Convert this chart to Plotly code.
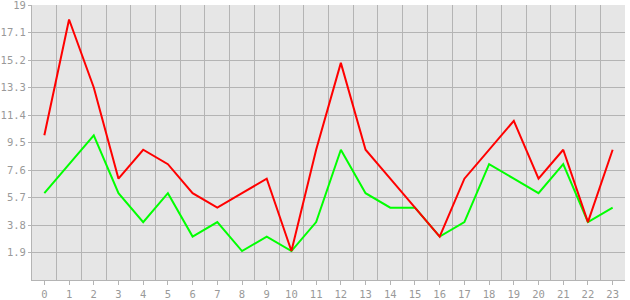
import plotly.graph_objects as go

categories = list(range(24))
red_values = [10, 18, 13.3, 7, 9, 8, 6, 5, 6, 7, 2, 9, 15, 9, 7, 5, 3, 7, 9, 11, 7, 9, 4, 9]
green_values = [6, 8, 10, 6, 4, 6, 3, 4, 2, 3, 2, 4, 9, 6, 5, 5, 3, 4, 8, 7, 6, 8, 4, 5]
y_ticks = [1.9, 3.8, 5.7, 7.6, 9.5, 11.4, 13.3, 15.2, 17.1, 19]
y_tick_labels = ["1.9", "3.8", "5.7", "7.6", "9.5", "11.4", "13.3", "15.2", "17.1", "19"]

grid = "#b4b4b4"
font_col = "#999999"

fig = go.Figure()
fig.add_trace(go.Scatter(x=categories, y=green_values, mode="lines",
                         line=dict(color="#00ff00", width=2), showlegend=False))
fig.add_trace(go.Scatter(x=categories, y=red_values, mode="lines",
                         line=dict(color="#ff0000", width=2), showlegend=False))

fig.update_layout(
    width=630, height=300,
    margin=dict(l=32, r=5, t=5, b=20),
    paper_bgcolor="white", plot_bgcolor="#e6e6e6",
    font=dict(family="DejaVu Sans Mono", size=10.5, color=font_col),
    xaxis=dict(
        range=[-0.5, 23.5], tickmode="array", tickvals=categories,
        ticktext=[str(c) for c in categories],
        showgrid=False, zeroline=False, automargin=False,
        ticks="outside", ticklen=4, tickcolor=grid, tickwidth=1,
        showline=True, linecolor=grid, linewidth=1,
        ticklabeloverflow="allow",
        minor=dict(tickmode="linear", tick0=-0.5, dtick=1, showgrid=True,
                   gridcolor=grid, gridwidth=1, ticklen=0),
        fixedrange=True,
    ),
    yaxis=dict(
        range=[0, 19], tickmode="array", tickvals=y_ticks, ticktext=y_tick_labels,
        showgrid=True, gridcolor=grid, gridwidth=1, zeroline=False, automargin=False,
        ticks="outside", ticklen=3, tickcolor=grid, tickwidth=1,
        showline=True, linecolor=grid, linewidth=1,
        ticklabeloverflow="allow",
        fixedrange=True,
    ),
)

fig.write_html("out.html")
